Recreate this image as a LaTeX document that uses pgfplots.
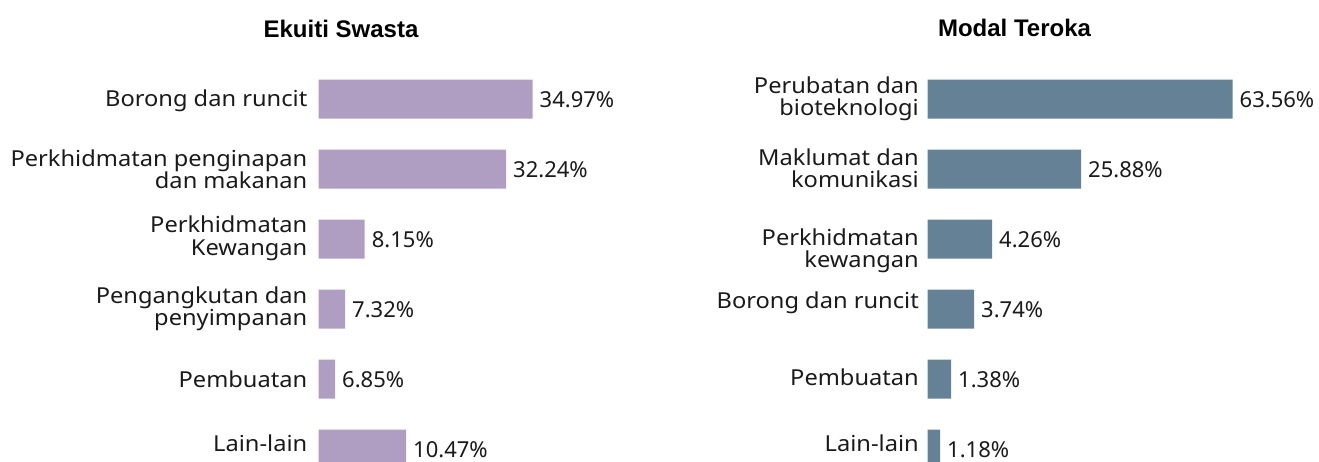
\documentclass[border=0pt]{standalone}
\usepackage{fontspec}
\setmainfont{Noto Sans}
\newfontfamily\catfont{Noto Sans}[FakeStretch=1.075]
\newfontfamily\titlefont{Liberation Sans}
\usepackage{pgfplots}
\pgfplotsset{compat=1.18}
\definecolor{pe}{HTML}{AF9EC2}
\definecolor{sl}{HTML}{648196}
\definecolor{tx}{HTML}{1A1A1A}
\tikzset{cat/.style={anchor=east, align=right, inner sep=0pt, text=tx,
    font=\catfont\fontsize{22}{22.5}\selectfont}}
\begin{document}
\begin{tikzpicture}
\pgfplotsset{
  mybar/.style={hide axis, x=1pt, y=70pt, y dir=reverse, xmin=0,
    ymin=-0.5, ymax=5.5, clip=false, anchor=north west, xbar,
    bar width=39pt, point meta=explicit symbolic, nodes near coords,
    nodes near coords style={anchor=west, xshift=7pt, yshift=-1pt,
      font=\fontsize{22}{24}\selectfont, text=tx, inner sep=0pt}},
}
\begin{axis}[mybar, at={(318.5pt,-64pt)}, xmax=220]
\addplot[draw=none, fill=pe] coordinates {
  (214,0) [34.97\%]
  (187.5,1) [32.24\%]
  (46.2,2) [8.15\%]
  (26.5,3) [7.32\%]
  (16.5,4) [6.85\%]
  (87.5,5) [10.47\%]
};
\node[cat, xshift=-11pt] at (axis cs:0,0.02) {Borong dan runcit};
\node[cat, xshift=-11pt] at (axis cs:0,1.0) {Perkhidmatan penginapan\\dan makanan};
\node[cat, xshift=-11pt] at (axis cs:0,1.99) {Perkhidmatan\\Kewangan};
\node[cat, xshift=-11pt] at (axis cs:0,3.0) {Pengangkutan dan\\penyimpanan};
\node[cat, xshift=-11pt] at (axis cs:0,4.0) {Pembuatan};
\node[cat, xshift=-11pt] at (axis cs:0,4.92) {Lain-lain};
\end{axis}
\begin{axis}[mybar, at={(927.5pt,-64pt)}, xmax=310]
\addplot[draw=none, fill=sl] coordinates {
  (305,0) [63.56\%]
  (153.5,1) [25.88\%]
  (64.5,2) [4.26\%]
  (46.5,3) [3.74\%]
  (23.5,4) [1.38\%]
  (12.5,5) [1.18\%]
};
\node[cat, xshift=-8.5pt] at (axis cs:0,0.0) {Perubatan dan\\bioteknologi};
\node[cat, xshift=-8.5pt] at (axis cs:0,0.99) {Maklumat dan\\komunikasi};
\node[cat, xshift=-8.5pt] at (axis cs:0,2.17) {Perkhidmatan\\kewangan};
\node[cat, xshift=-8.5pt] at (axis cs:0,2.91) {Borong dan runcit};
\node[cat, xshift=-8.5pt] at (axis cs:0,3.97) {Pembuatan};
\node[cat, xshift=-8.5pt] at (axis cs:0,4.92) {Lain-lain};
\end{axis}
\node[font=\titlefont\bfseries\fontsize{24}{26}\selectfont, text=black] at (341pt,-28.5pt) {Ekuiti Swasta};
\node[font=\titlefont\bfseries\fontsize{24}{26}\selectfont, text=black] at (1014.5pt,-28pt) {Modal Teroka};
\pgfresetboundingbox
\path (0,0) rectangle (1319pt,-462pt);
\end{tikzpicture}
\end{document}
